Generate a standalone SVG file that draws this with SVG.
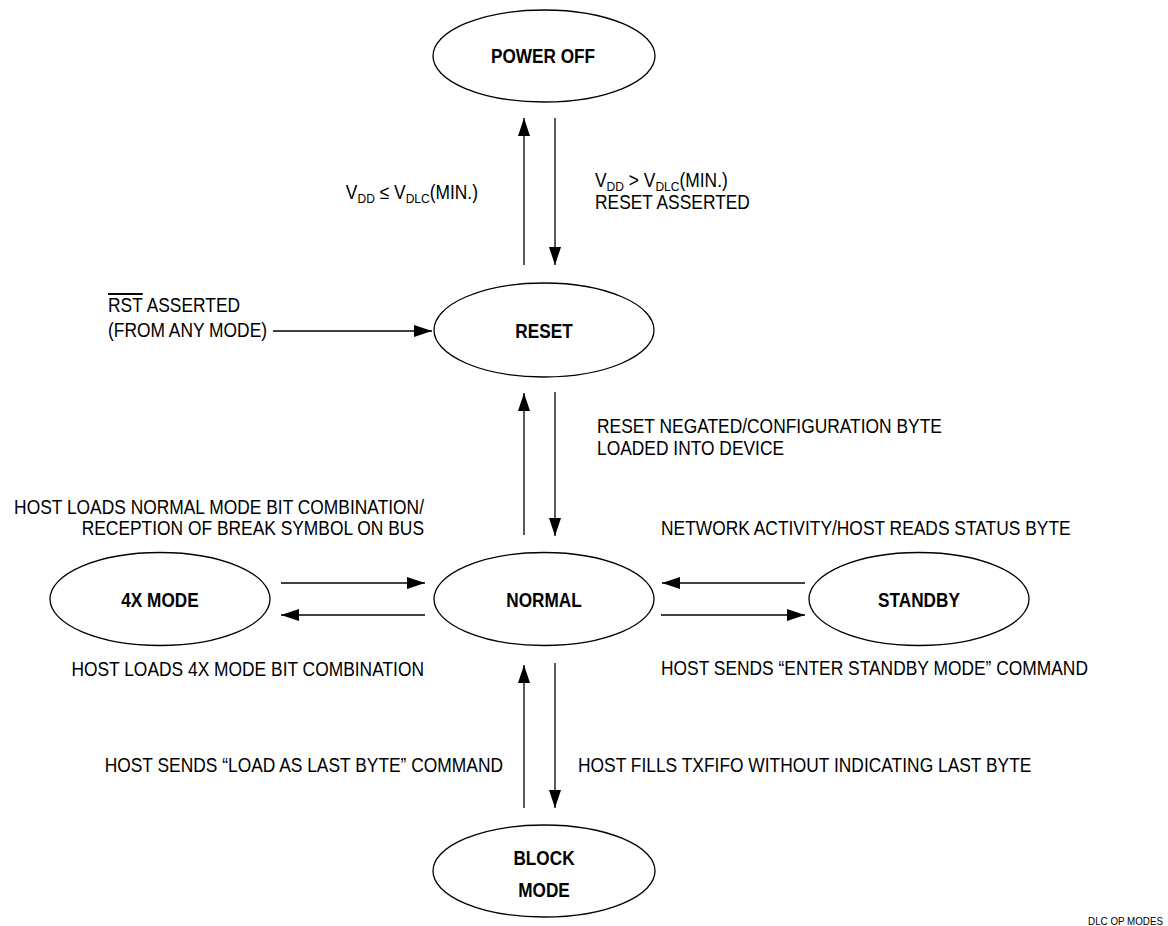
<svg xmlns="http://www.w3.org/2000/svg" width="1168" height="926" viewBox="0 0 1168 926">
<style>
.node{fill:#fff;stroke:#000;stroke-width:1.3}
.lbl{font-family:"Liberation Sans",Arial,sans-serif;font-weight:bold;font-size:20px;fill:#000;text-anchor:middle}
.txt{font-family:"Liberation Sans",Arial,sans-serif;font-size:19.5px;fill:#000}
.sub{font-size:13.5px}
.edge{stroke:#000;stroke-width:1.3;fill:none;marker-end:url(#ah)}
</style>
<defs>
<marker id="ah" markerUnits="userSpaceOnUse" markerWidth="18" markerHeight="12" refX="18" refY="6" orient="auto">
<path d="M0,0 L18,6 L0,12 z" fill="#000"/>
</marker>
</defs>
<rect width="1168" height="926" fill="#fff"/>
<g id="connectors">
<line class="edge" x1="524" y1="265" x2="524" y2="118"/>
<line class="edge" x1="555" y1="118" x2="555" y2="265"/>
<line class="edge" x1="273" y1="331" x2="432" y2="331"/>
<line class="edge" x1="524" y1="535" x2="524" y2="393"/>
<line class="edge" x1="555" y1="392" x2="555" y2="536"/>
<line class="edge" x1="281" y1="583" x2="425" y2="583"/>
<line class="edge" x1="425" y1="615" x2="281" y2="615"/>
<line class="edge" x1="805" y1="583" x2="662" y2="583"/>
<line class="edge" x1="661" y1="615" x2="805" y2="615"/>
<line class="edge" x1="524" y1="808" x2="524" y2="665"/>
<line class="edge" x1="555" y1="663" x2="555" y2="808"/>
</g>
<g id="labels">
<text class="txt" transform="matrix(0.892 0 0 1 478 199)" text-anchor="end">V<tspan class="sub" dy="4">DD</tspan><tspan dy="-4"> ≤ V</tspan><tspan class="sub" dy="4">DLC</tspan><tspan dy="-4">(MIN.)</tspan></text>
<text class="txt" transform="matrix(0.892 0 0 1 595 187)">V<tspan class="sub" dy="4">DD</tspan><tspan dy="-4"> &gt; V</tspan><tspan class="sub" dy="4">DLC</tspan><tspan dy="-4">(MIN.)</tspan></text>
<text class="txt" transform="matrix(0.892 0 0 1 595 209)">RESET ASSERTED</text>
<text class="txt" transform="matrix(0.892 0 0 1 108 312)"><tspan style="text-decoration:overline">RST</tspan> ASSERTED</text>
<text class="txt" transform="matrix(0.892 0 0 1 108 337)">(FROM ANY MODE)</text>
<text class="txt" transform="matrix(0.892 0 0 1 597 433)">RESET NEGATED/CONFIGURATION BYTE</text>
<text class="txt" transform="matrix(0.892 0 0 1 597 455)">LOADED INTO DEVICE</text>
<text class="txt" transform="matrix(0.892 0 0 1 424 514)" text-anchor="end">HOST LOADS NORMAL MODE BIT COMBINATION/</text>
<text class="txt" transform="matrix(0.892 0 0 1 424 535)" text-anchor="end">RECEPTION OF BREAK SYMBOL ON BUS</text>
<text class="txt" transform="matrix(0.892 0 0 1 661 535)">NETWORK ACTIVITY/HOST READS STATUS BYTE</text>
<text class="txt" transform="matrix(0.892 0 0 1 424 676)" text-anchor="end">HOST LOADS 4X MODE BIT COMBINATION</text>
<text class="txt" transform="matrix(0.892 0 0 1 661 675)">HOST SENDS “ENTER STANDBY MODE” COMMAND</text>
<text class="txt" transform="matrix(0.892 0 0 1 503 772)" text-anchor="end">HOST SENDS “LOAD AS LAST BYTE” COMMAND</text>
<text class="txt" transform="matrix(0.892 0 0 1 578 772)">HOST FILLS TXFIFO WITHOUT INDICATING LAST BYTE</text>
<text class="txt" transform="matrix(0.892 0 0 1 1163 925)" text-anchor="end" style="font-size:11px">DLC OP MODES</text>
</g>
<g id="power-off"><ellipse class="node" cx="544" cy="56" rx="111" ry="46"/><text class="lbl" transform="matrix(0.86 0 0 1 543 63)">POWER OFF</text></g>
<g id="reset"><ellipse class="node" cx="544" cy="330" rx="110" ry="47"/><text class="lbl" transform="matrix(0.86 0 0 1 544 338)">RESET</text></g>
<g id="normal"><ellipse class="node" cx="544" cy="599" rx="110" ry="46.5"/><text class="lbl" transform="matrix(0.86 0 0 1 544 607)">NORMAL</text></g>
<g id="mode-4x"><ellipse class="node" cx="160" cy="599" rx="110" ry="46.5"/><text class="lbl" transform="matrix(0.86 0 0 1 160 607)">4X MODE</text></g>
<g id="standby"><ellipse class="node" cx="919" cy="599" rx="110" ry="46.5"/><text class="lbl" transform="matrix(0.86 0 0 1 919 607)">STANDBY</text></g>
<g id="block-mode"><ellipse class="node" cx="544" cy="871" rx="111" ry="46"/><text class="lbl" transform="matrix(0.86 0 0 1 544 865)">BLOCK</text><text class="lbl" transform="matrix(0.86 0 0 1 544 897)">MODE</text></g>
</svg>
